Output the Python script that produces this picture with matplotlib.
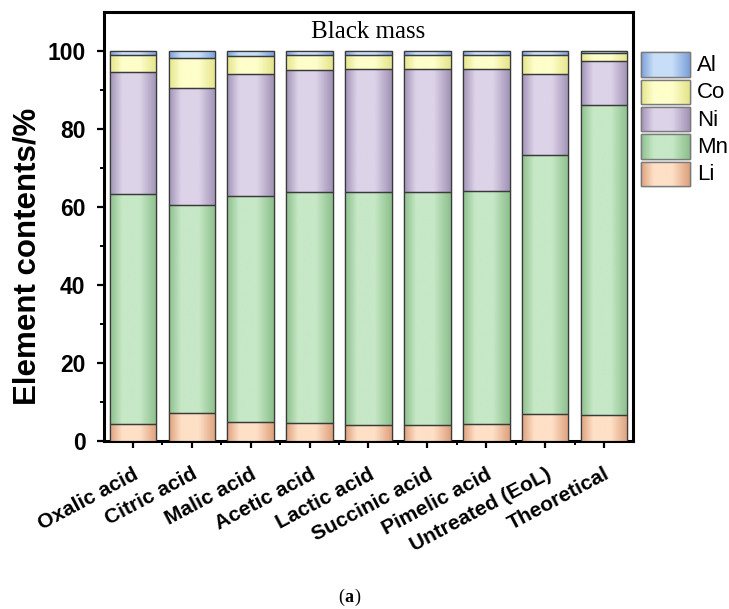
import numpy as np
import matplotlib
matplotlib.use("Agg")
import matplotlib.pyplot as plt
from matplotlib.colors import LinearSegmentedColormap
from matplotlib.patches import Rectangle
from matplotlib.transforms import ScaledTranslation

categories = ["Oxalic acid", "Citric acid", "Malic acid", "Acetic acid", "Lactic acid",
              "Succinic acid", "Pimelic acid", "Untreated (EoL)", "Theoretical"]
Li = [4.4, 7.2, 4.9, 4.7, 4.1, 4.1, 4.3, 6.8, 6.6]
Mn = [59.0, 53.2, 58.0, 59.1, 59.7, 59.7, 59.7, 66.5, 79.6]
Ni = [31.3, 30.2, 31.1, 31.3, 31.5, 31.5, 31.4, 20.7, 11.3]
Co = [4.4, 7.7, 4.8, 4.0, 3.8, 3.8, 3.7, 5.1, 2.1]
Al = [0.9, 1.7, 1.2, 0.9, 0.9, 0.9, 0.9, 0.9, 0.4]

series = [("Li", Li), ("Mn", Mn), ("Ni", Ni), ("Co", Co), ("Al", Al)]
legend_order = ["Al", "Co", "Ni", "Mn", "Li"]
# (edge colour, centre colour)
grad = {
    "Li": ("#DDA07C", "#FEE0C6"),
    "Mn": ("#8CBF8C", "#C6E8C6"),
    "Ni": ("#A092B6", "#DDD3E8"),
    "Co": ("#E4E48A", "#FEFECB"),
    "Al": ("#7A9FD8", "#C8DEF8"),
}

def cmap_for(name):
    e, c = grad[name]
    return LinearSegmentedColormap.from_list(name, [e, c, c, e], N=256)

gimg = np.concatenate([np.linspace(0, 0.45, 90), np.linspace(0.45, 0.55, 40),
                       np.linspace(0.55, 1, 126)]).reshape(1, -1)

W, H = 729, 609
fig = plt.figure(figsize=(W / 100, H / 100), dpi=100)
ax = fig.add_axes([103.5 / W, 1 - 441 / H, 530 / W, 429 / H])

x = np.arange(len(categories))
width = 0.79
bottom = np.zeros(len(categories))
edge = "#3a3a3a"
for name, vals in series:
    vals = np.array(vals)
    bars = ax.bar(x, vals, width, bottom=bottom, color=grad[name][1],
                  edgecolor=edge, linewidth=0.9, zorder=3)
    cm = cmap_for(name)
    for b in bars:
        bx, by = b.get_x(), b.get_y()
        bw, bh = b.get_width(), b.get_height()
        im = ax.imshow(gimg, cmap=cm, aspect="auto",
                       extent=[bx, bx + bw, by, by + bh], zorder=3.5,
                       interpolation="bilinear")
        im.set_clip_path(b)
        ax.add_patch(Rectangle((bx, by), bw, bh, fill=False, edgecolor=edge,
                               linewidth=0.9, zorder=4))
    bottom += vals

ax.set_xlim(-0.5, 8.5)
ax.set_ylim(0, 110)
ax.set_yticks([0, 20, 40, 60, 80, 100])
ax.set_yticks([10, 30, 50, 70, 90], minor=True)
ax.set_xticks(x)
ax.set_xticks(x[:-1] + 0.5, minor=True)
ax.set_xticklabels(categories, rotation=28, ha="right", va="top", rotation_mode="anchor",
                   fontfamily="Liberation Sans", fontweight="bold", fontsize=15)
off = ScaledTranslation(0.12, 0, fig.dpi_scale_trans)
for lab in ax.get_xticklabels():
    lab.set_transform(lab.get_transform() + off)
for lab in ax.get_yticklabels():
    lab.set_fontfamily("Liberation Sans")
    lab.set_fontweight("bold")
    lab.set_fontsize(16.5)
ax.tick_params(axis="both", which="major", direction="out", length=5, width=1.6)
ax.tick_params(axis="both", which="minor", direction="out", length=2.8, width=1.4)
ax.tick_params(axis="x", which="major", pad=12)
ax.tick_params(axis="y", which="major", pad=8)
for s in ax.spines.values():
    s.set_linewidth(2.2)
ax.set_ylabel("Element contents/%", fontfamily="Liberation Sans", fontweight="bold",
              fontsize=22.5)
ax.yaxis.set_label_coords((43 - 103.5) / 530, (441 - 256) / 429)
ax.text(0.5, (441 - 32) / 429, "Black mass", transform=ax.transAxes, ha="center",
        va="center", fontfamily="Liberation Serif", fontsize=18)

# legend drawn in figure pixel coordinates with gradient swatches
lax = fig.add_axes([0, 0, 1, 1])
lax.set_xlim(0, W)
lax.set_ylim(H, 0)
lax.axis("off")
lax.set_zorder(5)
sw_x0, sw_w, sw_h, pitch, y_top = 641, 49, 24.4, 27.3, 52.3
for i, name in enumerate(legend_order):
    yt = y_top + i * pitch
    rect = Rectangle((sw_x0, yt), sw_w, sw_h, facecolor=grad[name][1],
                     edgecolor="#7a7a7a", linewidth=1.0, zorder=2)
    lax.add_patch(rect)
    im = lax.imshow(gimg, cmap=cmap_for(name), aspect="auto",
                    extent=[sw_x0, sw_x0 + sw_w, yt + sw_h, yt], zorder=2.5,
                    interpolation="bilinear")
    im.set_clip_path(rect)
    lax.add_patch(Rectangle((sw_x0, yt), sw_w, sw_h, fill=False,
                            edgecolor="#7a7a7a", linewidth=1.0, zorder=3))
    lax.text(697, yt + sw_h / 2 + 1, name, va="center", ha="left",
             fontfamily="Liberation Sans", fontsize=16)
lax.set_xlim(0, W)
lax.set_ylim(H, 0)

cy = 1 - 597 / H
fig.text(338 / W, cy, "(", ha="left", va="center",
         fontfamily="Liberation Serif", fontsize=13)
fig.text(344.5 / W, cy, "a", ha="left", va="center",
         fontfamily="Liberation Serif", fontsize=13, fontweight="bold")
fig.text(354 / W, cy, ")", ha="left", va="center",
         fontfamily="Liberation Serif", fontsize=13)

fig.savefig("out.png", dpi=100)
